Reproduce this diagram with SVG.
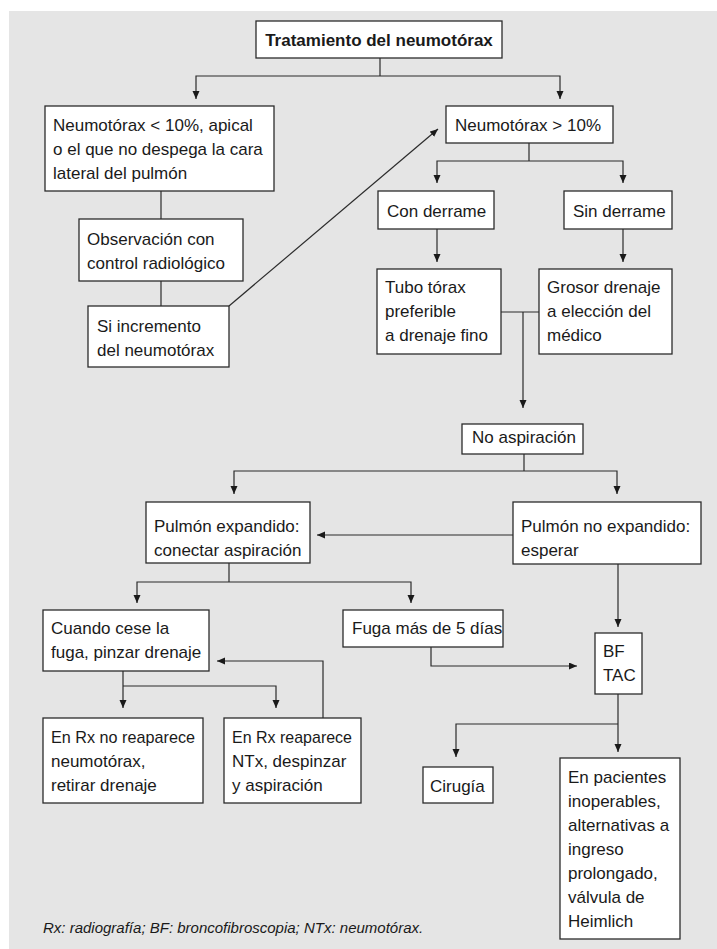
<svg xmlns="http://www.w3.org/2000/svg" width="717" height="949" viewBox="0 0 717 949">
<style>
.bg{fill:#e5e5e5}
.box{fill:#fff;stroke:#2b2b2b;stroke-width:1.3}
.t{font-family:"Liberation Sans",Arial,sans-serif;font-size:17px;fill:#1a1a1a}
.tb{font-family:"Liberation Sans",Arial,sans-serif;font-size:17px;font-weight:bold;fill:#1a1a1a}
.ft{font-family:"Liberation Sans",Arial,sans-serif;font-size:15px;font-style:italic;fill:#1a1a1a}
.c{fill:none;stroke:#2b2b2b;stroke-width:1.2}
.a{marker-end:url(#arr)}
</style>
<defs>
<marker id="arr" markerUnits="userSpaceOnUse" markerWidth="9" markerHeight="8" refX="8" refY="3.5" orient="auto">
<path d="M0,0 L8,3.5 L0,7 z" fill="#1a1a1a"/>
</marker>
</defs>
<rect class="bg" x="9" y="11" width="708" height="938"/>

<g id="connectors">
<path class="c" d="M380,58 V76"/>
<path class="c a" d="M380,76 H196 V99"/>
<path class="c a" d="M380,76 H560 V99"/>
<path class="c" d="M161,191 V219"/>
<path class="c" d="M161,281 V306"/>
<path class="c a" d="M229,306 L438,129"/>
<path class="c" d="M529,143 V161"/>
<path class="c a" d="M529,161 H437 V183"/>
<path class="c a" d="M529,161 H623 V183"/>
<path class="c a" d="M437,229 V262"/>
<path class="c a" d="M623,229 V262"/>
<path class="c" d="M501,312 H539"/>
<path class="c a" d="M523,312 V408"/>
<path class="c" d="M524,454 V471"/>
<path class="c a" d="M524,471 H234 V494"/>
<path class="c a" d="M524,471 H617 V494"/>
<path class="c a" d="M513,535 H317"/>
<path class="c" d="M229,563 V582"/>
<path class="c a" d="M229,582 H137 V603"/>
<path class="c a" d="M229,582 H411 V603"/>
<path class="c a" d="M431,647 V666 H577"/>
<path class="c a" d="M618,564 V627"/>
<path class="c a" d="M618,694 V752"/>
<path class="c a" d="M618,724 H456 V757"/>
<path class="c" d="M123,671 V686"/>
<path class="c a" d="M123,686 V708"/>
<path class="c a" d="M123,686 H276 V708"/>
<path class="c a" d="M323,718 V661 H217"/>
</g>

<g id="n-title">
<rect class="box" x="256" y="21" width="246" height="37"/>
<text class="tb" x="379" y="46" text-anchor="middle">Tratamiento del neumotórax</text>
</g>

<g id="n-menor10">
<rect class="box" x="45" y="106" width="229" height="85"/>
<text class="t" x="53" y="131">Neumotórax &lt; 10%, apical</text>
<text class="t" x="53" y="155">o el que no despega la cara</text>
<text class="t" x="53" y="179">lateral del pulmón</text>
</g>

<g id="n-observacion">
<rect class="box" x="79" y="219" width="164" height="62"/>
<text class="t" x="87" y="245">Observación con</text>
<text class="t" x="87" y="269">control radiológico</text>
</g>

<g id="n-incremento">
<rect class="box" x="88" y="306" width="141" height="61"/>
<text class="t" x="97" y="332">Si incremento</text>
<text class="t" x="97" y="356">del neumotórax</text>
</g>

<g id="n-mayor10">
<rect class="box" x="446" y="106" width="167" height="37"/>
<text class="t" x="455" y="131">Neumotórax &gt; 10%</text>
</g>

<g id="n-con">
<rect class="box" x="378" y="191" width="116" height="38"/>
<text class="t" x="387" y="217">Con derrame</text>
</g>

<g id="n-sin">
<rect class="box" x="564" y="191" width="108" height="38"/>
<text class="t" x="573" y="217">Sin derrame</text>
</g>

<g id="n-tubo">
<rect class="box" x="377" y="269" width="124" height="85"/>
<text class="t" x="385" y="293">Tubo tórax</text>
<text class="t" x="385" y="317">preferible</text>
<text class="t" x="385" y="341">a drenaje fino</text>
</g>

<g id="n-grosor">
<rect class="box" x="539" y="269" width="133" height="85"/>
<text class="t" x="547" y="293">Grosor drenaje</text>
<text class="t" x="547" y="317">a elección del</text>
<text class="t" x="547" y="341">médico</text>
</g>

<g id="n-noasp">
<rect class="box" x="462" y="424" width="121" height="30"/>
<text class="t" x="472" y="443">No aspiración</text>
</g>

<g id="n-expandido">
<rect class="box" x="146" y="502" width="164" height="61"/>
<text class="t" x="154" y="532">Pulmón expandido:</text>
<text class="t" x="154" y="556">conectar aspiración</text>
</g>

<g id="n-noexpandido">
<rect class="box" x="513" y="502" width="188" height="62"/>
<text class="t" x="521" y="532">Pulmón no expandido:</text>
<text class="t" x="521" y="556">esperar</text>
</g>

<g id="n-cuando">
<rect class="box" x="43" y="610" width="166" height="61"/>
<text class="t" x="51" y="634">Cuando cese la</text>
<text class="t" x="51" y="658">fuga, pinzar drenaje</text>
</g>

<g id="n-fuga">
<rect class="box" x="343" y="610" width="160" height="37"/>
<text class="t" x="352" y="634">Fuga más de 5 días</text>
</g>

<g id="n-bftac">
<rect class="box" x="595" y="633" width="47" height="61"/>
<text class="t" x="603" y="657">BF</text>
<text class="t" x="603" y="681">TAC</text>
</g>

<g id="n-noreaparece">
<rect class="box" x="43" y="718" width="160" height="85"/>
<text class="t" x="51" y="743" textLength="144" lengthAdjust="spacingAndGlyphs">En Rx no reaparece</text>
<text class="t" x="51" y="767">neumotórax,</text>
<text class="t" x="51" y="791">retirar drenaje</text>
</g>

<g id="n-reaparece">
<rect class="box" x="224" y="718" width="137" height="85"/>
<text class="t" x="232" y="743" textLength="120" lengthAdjust="spacingAndGlyphs">En Rx reaparece</text>
<text class="t" x="232" y="767">NTx, despinzar</text>
<text class="t" x="232" y="791">y aspiración</text>
</g>

<g id="n-cirugia">
<rect class="box" x="423" y="767" width="70" height="36"/>
<text class="t" x="430" y="792">Cirugía</text>
</g>

<g id="n-pacientes">
<rect class="box" x="560" y="758" width="120" height="181"/>
<text class="t" x="568" y="783">En pacientes</text>
<text class="t" x="568" y="807">inoperables,</text>
<text class="t" x="568" y="831">alternativas a</text>
<text class="t" x="568" y="855">ingreso</text>
<text class="t" x="568" y="879">prolongado,</text>
<text class="t" x="568" y="903">válvula de</text>
<text class="t" x="568" y="927">Heimlich</text>
</g>

<text class="ft" x="43" y="933">Rx: radiografía; BF: broncofibroscopia; NTx: neumotórax.</text>
</svg>
